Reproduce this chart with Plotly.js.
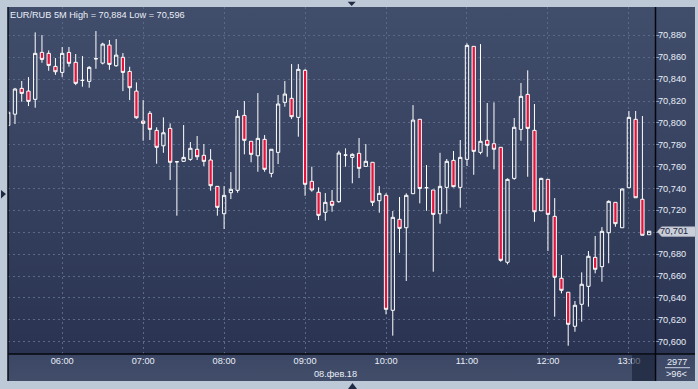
<!DOCTYPE html>
<html>
<head>
<meta charset="utf-8">
<script src="https://cdn.plot.ly/plotly-3.0.1.min.js"></script>
<style>
html,body{margin:0;padding:0;background:#bec9d7;}
#wrap{position:relative;width:698px;height:389px;background:#bec9d7;overflow:hidden;}
#panel{position:absolute;left:8px;top:7px;width:687px;height:347px;background:linear-gradient(#414e6b,#2a3452);}
#band{position:absolute;left:8px;top:354px;width:687px;height:27px;background:linear-gradient(#3b4764,#414d69);}
#chart{position:absolute;left:0;top:0;width:698px;height:389px;}
</style>
</head>
<body>
<div id="wrap">
<div id="panel"></div>
<div id="band"></div>
<div id="chart"></div>
</div>
<script>
// ---- data (EUR/RUB, 5-minute candles, 08.02.18 05:20 - 13:15) ----
const startTime = '2018-02-08 05:20';
const open = [70.7978,70.8080,70.8316,70.8291,70.8216,70.8645,70.8636,70.8517,70.8462,70.8645,
70.8554,70.8389,70.8380,70.8587,70.8547,70.8712,70.8523,70.8600,70.8471,70.8291,
70.8017,70.8088,70.7932,70.7791,70.7950,70.7645,70.7649,70.7667,70.7759,70.7704,
70.7661,70.7420,70.7170,70.7362,70.7384,70.8069,70.7832,70.7700,70.7850,70.7539,
70.7731,70.8188,70.8225,70.8051,70.8481,70.7466,70.7366,70.7183,70.7283,70.7280,
70.7706,70.7685,70.7722,70.7603,70.7640,70.7289,70.7338,70.6287,70.7119,70.7042,
70.7353,70.8033,70.7408,70.7387,70.7170,70.7411,70.7658,70.7411,70.7667,70.8700,
70.7731,70.7841,70.7810,70.7777,70.6726,70.7493,70.7941,70.8261,70.7932,70.7197,
70.7484,70.7146,70.6580,70.6452,70.6141,70.6342,70.6506,70.6771,70.6686,70.6996,
70.7274,70.7042,70.7408,70.8033,70.7302,70.6978];
const high = [70.8110,70.8320,70.8383,70.8419,70.8828,70.8803,70.8663,70.8593,70.8694,70.8694,
70.8630,70.8611,70.8520,70.8840,70.8733,70.8758,70.8767,70.8639,70.8514,70.8371,
70.8209,70.8109,70.7960,70.8051,70.7996,70.7650,70.7981,70.7825,70.7880,70.7807,
70.7761,70.7423,70.7423,70.7551,70.8118,70.8200,70.7832,70.8273,70.7889,70.7759,
70.8255,70.8383,70.8538,70.8538,70.8492,70.7600,70.7411,70.7359,70.7387,70.7746,
70.7768,70.7722,70.7862,70.7807,70.7640,70.7423,70.7356,70.7195,70.7323,70.7356,
70.8163,70.8033,70.7615,70.7387,70.7727,70.7670,70.7743,70.7844,70.8727,70.8700,
70.8721,70.8182,70.8188,70.7777,70.7493,70.8045,70.8365,70.8481,70.8173,70.7499,
70.7484,70.7313,70.6792,70.6452,70.6372,70.6634,70.6829,70.6966,70.7048,70.7292,
70.7274,70.7402,70.8109,70.8109,70.8063,70.7010];
const low = [70.7970,70.7990,70.8194,70.8154,70.8139,70.8550,70.8477,70.8440,70.8419,70.8514,
70.8346,70.8331,70.8322,70.8495,70.8535,70.8486,70.8514,70.8291,70.8209,70.8038,
70.7837,70.7844,70.7627,70.7727,70.7478,70.7152,70.7645,70.7654,70.7661,70.7606,
70.7380,70.7152,70.7030,70.7304,70.7362,70.7713,70.7640,70.7554,70.7554,70.7503,
70.7624,70.8148,70.8035,70.7874,70.7334,70.7371,70.7112,70.7106,70.7188,70.7270,
70.7600,70.7448,70.7496,70.7603,70.7240,70.7179,70.6250,70.6055,70.6813,70.6555,
70.7353,70.7265,70.7197,70.6640,70.7079,70.7170,70.7411,70.7225,70.7606,70.7526,
70.7713,70.7691,70.7576,70.6731,70.6707,70.7480,70.7837,70.7508,70.7097,70.7197,
70.6829,70.6229,70.6442,70.5963,70.6091,70.6183,70.6320,70.6625,70.6548,70.6717,
70.7051,70.7042,70.7408,70.7316,70.6973,70.6978];
const close = [70.8097,70.8310,70.8270,70.8197,70.8636,70.8581,70.8526,70.8468,70.8636,70.8545,
70.8362,70.8389,70.8508,70.8587,70.8721,70.8535,70.8620,70.8462,70.8322,70.8047,
70.7996,70.7941,70.7777,70.7910,70.7640,70.7645,70.7685,70.7768,70.7691,70.7649,
70.7426,70.7228,70.7338,70.7393,70.8060,70.7841,70.7713,70.7859,70.7576,70.7759,
70.8173,70.8264,70.8057,70.8490,70.7439,70.7387,70.7155,70.7274,70.7247,70.7725,
70.7706,70.7713,70.7585,70.7649,70.7274,70.7356,70.6296,70.7137,70.7036,70.7338,
70.8026,70.7400,70.7408,70.7164,70.7420,70.7649,70.7417,70.7685,70.8709,70.7740,
70.7832,70.7795,70.7759,70.6744,70.7484,70.7960,70.8243,70.7950,70.7188,70.7493,
70.7164,70.6589,70.6470,70.6159,70.6333,70.6525,70.6781,70.6662,70.7009,70.7283,
70.7079,70.7396,70.8051,70.7316,70.6973,70.7010];
const hourTicks = ['2018-02-08 06:00','2018-02-08 07:00','2018-02-08 08:00','2018-02-08 09:00',
                   '2018-02-08 10:00','2018-02-08 11:00','2018-02-08 12:00','2018-02-08 13:00'];
const hourLabels = ['06:00','07:00','08:00','09:00','10:00','11:00','12:00','13:00'];
const priceTicks = [70.60,70.62,70.64,70.66,70.68,70.70,70.72,70.74,70.76,70.78,70.80,70.82,70.84,70.86,70.88];
const priceLabels = ['70,600','70,620','70,640','70,660','70,680','','70,720','70,740','70,760','70,780','70,800','70,820','70,840','70,860','70,880'];
const titleText = 'EUR/RUB 5M High = 70,884 Low = 70,596';
const lastPriceText = '70,701';
const lastPrice = 70.701;
const dateText = '08.фев.18';
const barCount = '2977';
const visibleBars = '>96<';

// time stamps of the 5-minute bars
function pad(n){return (n<10?'0':'')+n;}
const times = [];
{
  const base = new Date(startTime.replace(' ','T')+':00Z').getTime();
  for (let i=0;i<open.length;i++){
    const d = new Date(base + i*5*60000);
    times.push(d.getUTCFullYear()+'-'+pad(d.getUTCMonth()+1)+'-'+pad(d.getUTCDate())+' '+pad(d.getUTCHours())+':'+pad(d.getUTCMinutes()));
  }
}

// ---- geometry helpers (pixel -> paper) ----
const PL=8, PR=655, PT=7, PB=354;
const px = v => (v-PL)/(PR-PL);
const py = v => (PB-v)/(PB-PT);

const FONT = 'Liberation Sans, Arial, sans-serif';
const FS = 9.2;
const TXT = '#e9eef8';
const GRID = '#5b6887';

const trace = {
  type:'candlestick', x:times, open:open, high:high, low:low, close:close,
  increasing:{line:{color:'#ffffff', width:1}, fillcolor:'rgba(0,0,0,0)'},
  decreasing:{line:{color:'#ffffff', width:1}, fillcolor:'#e3143c'},
  whiskerwidth:0, hoverinfo:'skip', showlegend:false
};

// price-axis labels placed on the y scale next to the axis
const priceAnn = [];
priceTicks.forEach((v,i)=>{
  if (priceLabels[i]) priceAnn.push({text:priceLabels[i], xref:'paper', yref:'y', x:px(672.3), y:v,
    xanchor:'center', yanchor:'middle', showarrow:false, font:{family:FONT, size:FS, color:TXT}});
});

const layout = {
  width:698, height:389,
  margin:{l:PL, r:698-PR, t:PT, b:389-PB, pad:0},
  paper_bgcolor:'rgba(0,0,0,0)', plot_bgcolor:'rgba(0,0,0,0)',
  separators:', ',
  showlegend:false,
  title:{text:titleText, x:10/698, xref:'container', xanchor:'left', y:1-15/389, yref:'container', yanchor:'middle',
         font:{family:FONT, size:FS, color:TXT}},
  xaxis:{type:'date', range:['2018-02-08 05:19:50','2018-02-08 13:19:20'],
         tickmode:'array', tickvals:hourTicks, ticktext:hourLabels,
         showgrid:true, gridcolor:GRID, griddash:'2px,3px', gridwidth:1,
         zeroline:false, showline:false, ticks:'',
         tickfont:{family:FONT, size:FS, color:TXT},
         rangeslider:{visible:false}, fixedrange:true},
  yaxis:{side:'right', range:[70.58875,70.90599], tickmode:'array', tickvals:priceTicks, ticktext:priceLabels,
         showticklabels:false,
         showgrid:true, gridcolor:GRID, griddash:'2px,3px', gridwidth:1,
         zeroline:false, showline:false, ticks:'outside', ticklen:3, tickcolor:'#9aa6bf',
         fixedrange:true},
  shapes:[
    {type:'line', xref:'paper', yref:'paper', x0:px(8), x1:px(695), y0:py(354), y1:py(354), line:{color:'#05070c', width:1.5}, layer:'above'},
    {type:'line', xref:'paper', yref:'paper', x0:px(655.5), x1:px(655.5), y0:py(7), y1:py(381), line:{color:'#05070c', width:1.5}, layer:'above'},
    {type:'line', xref:'paper', yref:'paper', x0:px(8), x1:px(8), y0:py(7), y1:py(381), line:{color:'#0a0f1a', width:1.5}, layer:'above'},
    {type:'rect', xref:'paper', yref:'paper', x0:px(632), x1:px(655), y0:py(355), y1:py(381), fillcolor:'rgba(22,30,52,0.6)', line:{width:0}, layer:'above'},
    {type:'line', xref:'paper', yref:'paper', x0:px(665), x1:px(690), y0:py(367.7), y1:py(367.7), line:{color:'#c9d2e2', width:1}, layer:'above'},
    {type:'path', xref:'paper', yref:'paper', layer:'above',
     path:'M '+px(657.3)+' '+py(231.5)+' L '+px(661.7)+' '+py(226.8)+' L '+px(695.5)+' '+py(226.8)+' L '+px(695.5)+' '+py(236.4)+' L '+px(661.7)+' '+py(236.4)+' Z',
     fillcolor:'#c9ced8', line:{color:'#aeb5c3', width:0.6}},
    {type:'path', xref:'paper', yref:'paper', layer:'above',
     path:'M '+px(347.7)+' '+py(1.7)+' L '+px(355.7)+' '+py(1.7)+' L '+px(351.7)+' '+py(6)+' Z',
     fillcolor:'#1f2a44', line:{width:0}},
    {type:'path', xref:'paper', yref:'paper', layer:'above',
     path:'M '+px(1)+' '+py(190)+' L '+px(6)+' '+py(194)+' L '+px(1)+' '+py(198.5)+' Z',
     fillcolor:'#1f2a44', line:{width:0}},
    {type:'path', xref:'paper', yref:'paper', layer:'above',
     path:'M '+px(348)+' '+py(389)+' L '+px(357)+' '+py(389)+' L '+px(352.5)+' '+py(383)+' Z',
     fillcolor:'#1f2a44', line:{width:0}}
  ],
  annotations:priceAnn.concat([
    {text:lastPriceText, xref:'paper', yref:'y', x:px(674), y:lastPrice, xanchor:'center', yanchor:'middle',
     showarrow:false, font:{family:FONT, size:FS, color:'#1c2642'}},
    {text:dateText, xref:'paper', yref:'paper', x:px(335), y:py(373.5), xanchor:'center', yanchor:'middle',
     showarrow:false, font:{family:FONT, size:FS, color:TXT}},
    {text:barCount, xref:'paper', yref:'paper', x:px(677), y:py(361.5), xanchor:'center', yanchor:'middle',
     showarrow:false, font:{family:FONT, size:FS, color:TXT}},
    {text:visibleBars, xref:'paper', yref:'paper', x:px(676), y:py(373.7), xanchor:'center', yanchor:'middle',
     showarrow:false, font:{family:FONT, size:FS, color:TXT}}
  ])
};

Plotly.newPlot('chart', [trace], layout, {staticPlot:true, displayModeBar:false});
</script>
</body>
</html>
